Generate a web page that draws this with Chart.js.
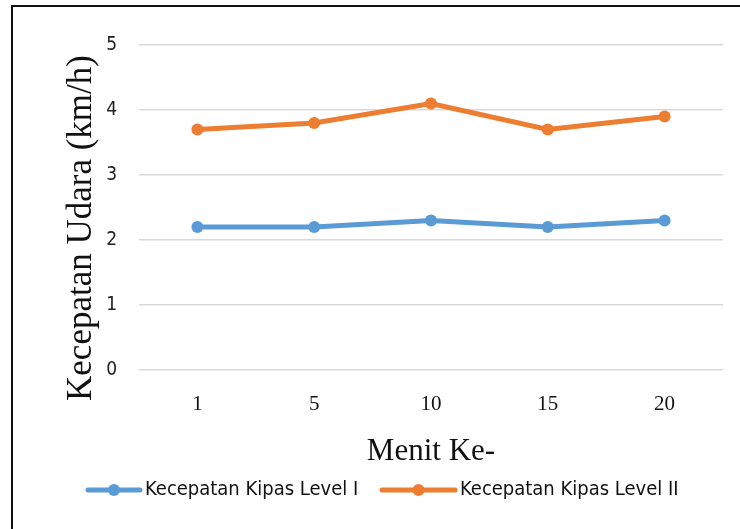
<!DOCTYPE html>
<html>
<head>
<meta charset="utf-8">
<script src="https://cdn.jsdelivr.net/npm/chart.js@4.4.1/dist/chart.umd.min.js"></script>
<style>
  body { margin: 0; background: #fff; }
  #wrap { position: relative; width: 740px; height: 529px; overflow: hidden; }
  #frame { position: absolute; left: 11px; top: 5px; width: 800px; height: 600px;
           border-top: 2px solid #111; border-left: 2px solid #111; pointer-events: none; }
</style>
</head>
<body>
<div id="wrap">
  <canvas id="chart" width="740" height="529"></canvas>
  <div id="frame"></div>
</div>
<script>
var menit = ["1", "5", "10", "15", "20"];
var kipasLevel1 = [2.2, 2.2, 2.3, 2.2, 2.3];
var kipasLevel2 = [3.7, 3.8, 4.1, 3.7, 3.9];
var namaSeri = ["Kecepatan Kipas Level I", "Kecepatan Kipas Level II"];
var warna = ["#5B9BD5", "#ED7D31"];

var serif = "'Liberation Serif', 'Times New Roman', serif";
var narrow = "'Liberation Sans Narrow', 'DejaVu Sans Condensed', sans-serif";

// judul sumbu Y dan legenda digambar manual
var extras = {
    id: "extras",
    afterDraw: function(chart) {
        var ctx = chart.ctx;
        ctx.save();
        ctx.fillStyle = "#111";
        ctx.font = "35px " + serif;
        ctx.textAlign = "center";
        ctx.textBaseline = "middle";
        ctx.translate(82, 228);
        ctx.rotate(-Math.PI / 2);
        ctx.fillText("Kecepatan Udara (km/h)", 0, 0);
        ctx.restore();

        var items = [{x: 88, w: 52}, {x: 382, w: 73}];
        ctx.save();
        ctx.font = "20px " + narrow;
        ctx.textBaseline = "middle";
        ctx.fillStyle = "#111";
        items.forEach(function(it, i) {
            var y = 490;
            ctx.strokeStyle = warna[i];
            ctx.lineWidth = 5;
            ctx.lineCap = "round";
            ctx.beginPath();
            ctx.moveTo(it.x, y);
            ctx.lineTo(it.x + it.w, y);
            ctx.stroke();
            ctx.fillStyle = warna[i];
            ctx.beginPath();
            ctx.arc(it.x + it.w / 2, y, 6, 0, Math.PI * 2);
            ctx.fill();
            ctx.fillStyle = "#111";
            ctx.fillText(namaSeri[i], it.x + it.w + 5, y);
        });
        ctx.restore();
    }
};

new Chart(document.getElementById("chart"), {
    type: "line",
    data: {
        labels: menit,
        datasets: [
            {
                label: namaSeri[0],
                data: kipasLevel1,
                borderColor: warna[0],
                backgroundColor: warna[0],
                borderWidth: 5,
                pointRadius: 6,
                pointBorderWidth: 0,
                tension: 0
            },
            {
                label: namaSeri[1],
                data: kipasLevel2,
                borderColor: warna[1],
                backgroundColor: warna[1],
                borderWidth: 5,
                pointRadius: 6,
                pointBorderWidth: 0,
                tension: 0
            }
        ]
    },
    options: {
        responsive: false,
        animation: false,
        layout: { padding: { left: 0, top: 45, right: 17, bottom: 59 } },
        plugins: {
            legend: { display: false },
            tooltip: { enabled: false }
        },
        scales: {
            x: {
                offset: true,
                grid: { display: false, drawTicks: false },
                border: { display: false },
                ticks: { color: "#111", font: { family: serif, size: 21 }, padding: 22 },
                title: {
                    display: true,
                    text: "Menit Ke-",
                    color: "#111",
                    font: { family: serif, size: 31 },
                    padding: { top: 0, bottom: 0 }
                },
                afterFit: function(scale) { scale.height = 100; }
            },
            y: {
                min: 0,
                max: 5,
                ticks: { stepSize: 1, color: "#222", font: { family: narrow, size: 19 }, padding: 22 },
                grid: { color: "#d9d9d9", lineWidth: 1.5, drawTicks: false },
                border: { display: false },
                afterFit: function(scale) { scale.width = 139; }
            }
        }
    },
    plugins: [extras]
});
</script>
</body>
</html>
